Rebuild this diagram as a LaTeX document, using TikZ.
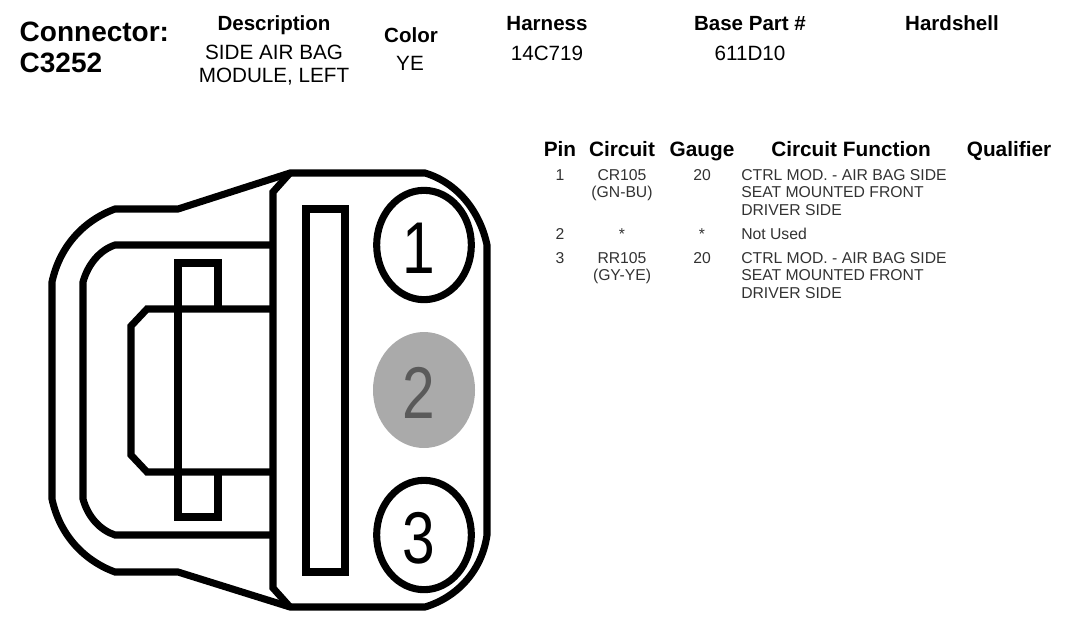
\documentclass[tikz,border=0pt]{standalone}
\usepackage{fontspec}
\setmainfont{Liberation Sans}
\usetikzlibrary{shapes.geometric}
\definecolor{pinfill}{RGB}{170,170,170}
\definecolor{pintext}{RGB}{90,90,90}
\definecolor{celltext}{RGB}{50,50,50}
\newcommand{\pinnum}[1]{\raisebox{-21.2pt}[0pt][0pt]{\scalebox{.8}[1]{#1}}\kern8pt}
\tikzset{
  heavy/.style={line width=5.3pt,line cap=butt,line join=miter},
  pinring/.style={draw,ellipse,line width=5.3pt,minimum width=71pt,minimum height=82pt,inner sep=0pt,font=\fontsize{55}{55}\selectfont},
  pinvoid/.style={fill=pinfill,ellipse,minimum width=76.5pt,minimum height=87pt,inner sep=0pt,text=pintext,font=\fontsize{55}{55}\selectfont},
  title/.style={font=\fontsize{21}{23.5}\selectfont\bfseries,align=left,anchor=west},
  head/.style={font=\fontsize{15.4}{17}\selectfont\bfseries,anchor=base,inner sep=0pt},
  value/.style={font=\fontsize{15.5}{17.3}\selectfont,align=center,anchor=center},
  colhead/.style={font=\fontsize{15.6}{17}\selectfont\bfseries,anchor=base,inner sep=0pt},
  cell/.style={font=\fontsize{11.8}{13}\selectfont,text=celltext,align=center,anchor=north,inner sep=0pt},
  cellfn/.style={font=\fontsize{11.8}{13.1}\selectfont,text=celltext,align=left,anchor=north west,inner sep=0pt},
}
\begin{document}
\begin{tikzpicture}[x=.75pt,y=-.75pt]
\useasboundingbox (0,0) rectangle (1069,629);
% header
\node[title] (conn) at (15,47.5) {Connector:\\C3252};
\node[head] (hdesc) at (274,30) {Description};
\node[value] (vdesc) at (274,65) {SIDE AIR BAG\\MODULE, LEFT};
\node[head] (hcolor) at (411,42) {Color};
\node[value] (vcolor) at (410,63) {YE};
\node[head] (hharn) at (547,30) {Harness};
\node[value] (vharn) at (547,53) {14C719};
\node[head] (hbase) at (750,30) {Base Part \#};
\node[value] (vbase) at (750,53) {611D10};
\node[head] (hshell) at (952,30) {Hardshell};
% table
\node[colhead] (hpin) at (560,156) {Pin};
\node[colhead] (hcirc) at (622,156) {Circuit};
\node[colhead] (hgauge) at (702,156) {Gauge};
\node[colhead] (hfunc) at (851,156) {Circuit Function};
\node[colhead] (hqual) at (1009,156) {Qualifier};
\node[cell] (p1) at (560,169) {1};
\node[cell] (c1) at (622,169) {CR105\\(GN-BU)};
\node[cell] (g1) at (702,169) {20};
\node[cellfn] (f1) at (741,169) {CTRL MOD. - AIR BAG SIDE\\SEAT MOUNTED FRONT\\DRIVER SIDE};
\node[cell] (p2) at (560,228) {2};
\node[cell] (c2) at (622,228) {*};
\node[cell] (g2) at (702,228) {*};
\node[cellfn] (f2) at (741,228) {Not Used};
\node[cell] (p3) at (560,252) {3};
\node[cell] (c3) at (622,252) {RR105\\(GY-YE)};
\node[cell] (g3) at (702,252) {20};
\node[cellfn] (f3) at (741,252) {CTRL MOD. - AIR BAG SIDE\\SEAT MOUNTED FRONT\\DRIVER SIDE};
% body
\draw[heavy] (487,245) .. controls (480,212) and (458,183) .. (425,173) -- (290,173) -- (178,209) -- (115,209)
  .. controls (85,220) and (60,245) .. (52,282) -- (52,499)
  .. controls (60,536) and (85,561) .. (115,572) -- (178,572) -- (290,607) -- (425,607)
  .. controls (458,597) and (482,570) .. (487,535) -- cycle;
\draw[heavy] (290,173) -- (273,192) -- (273,588) -- (290,607);
\draw[heavy] (273,245) -- (115,245) .. controls (100,250) and (88,264) .. (83,282) -- (83,499)
  .. controls (88,517) and (100,530) .. (115,535) -- (273,535);
\draw[heavy] (273,309) -- (147,309) -- (131,326) -- (131,455) -- (147,472) -- (273,472);
\draw[heavy] (178,309) -- (178,263) -- (218,263) -- (218,309);
\draw[heavy] (178,309) -- (178,517) -- (218,517) -- (218,472);
\draw[heavy] (306,209) rectangle (345,572);
% pins
\node[pinring] (pin1) at (424,245) {\pinnum{1}};
\node[pinvoid] (pin2) at (424,390) {\pinnum{2}};
\node[pinring] (pin3) at (424,535) {\pinnum{3}};
\end{tikzpicture}
\end{document}
